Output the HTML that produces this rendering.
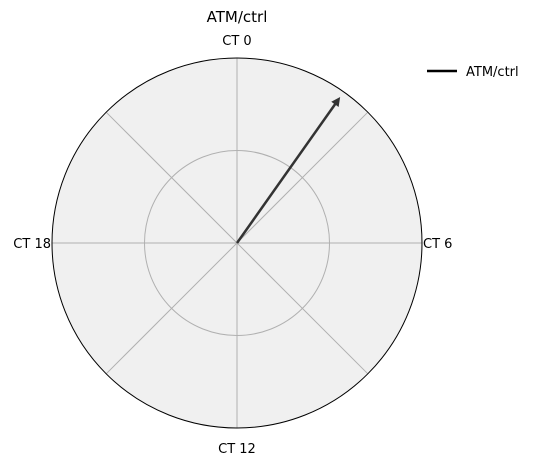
<!DOCTYPE html>
<html><head><meta charset="utf-8"><style>
body{margin:0;background:#fff;}
svg{display:block;font-family:"DejaVu Sans","Liberation Sans",sans-serif;}
</style></head><body>
<svg id="chart" width="537" height="465" viewBox="0 0 537 465">
<text x="237" y="22" font-size="15" text-anchor="middle">ATM/ctrl</text>
<g id="plot"></g>
<g>
<line x1="427" y1="71" x2="457" y2="71" stroke="#000" stroke-width="2.5"/>
<text x="466" y="76" font-size="13">ATM/ctrl</text>
</g>
</svg>
<script>
const ctTicks = [0, 6, 12, 18];
const ctLabels = ["CT 0", "CT 6", "CT 12", "CT 18"];
const phaseCT = [2.35];
const amplitude = [0.966];
const rTicks = [0.5];
const cx = 237, cy = 243, R = 185;
const ns = "http://www.w3.org/2000/svg";
const g = document.getElementById('plot');
function ang(ct){ return ct / 24 * 2 * Math.PI; }
function px(ct, r){ return cx + R * r * Math.sin(ang(ct)); }
function py(ct, r){ return cy - R * r * Math.cos(ang(ct)); }
function mk(tag, attrs){ const e = document.createElementNS(ns, tag); for (const k in attrs) e.setAttribute(k, attrs[k]); g.appendChild(e); return e; }
let bg = mk('circle', {cx, cy, r: R, fill: '#f0f0f0', stroke: 'none'});


for (let i = 0; i < 8; i++) {
  const ct = i * 3;
  const l = mk('line', {x1: cx, y1: cy, x2: px(ct, 1), y2: py(ct, 1), stroke: '#b0b0b0', 'stroke-width': 1});
  
  
}
rTicks.forEach(r => {
  const c = mk('circle', {cx, cy, r: R * r, fill: 'none', stroke: '#b0b0b0', 'stroke-width': 1});
  
  
});
let outer = mk('circle', {cx, cy, r: R, fill: 'none', stroke: '#000', 'stroke-width': 1});


ctTicks.forEach((ct, i) => {
  let anchor = 'middle', xx = px(ct, 1), yy = cy + 5;
  if (ct === 0) yy = cy - R - 13;
  if (ct === 12) yy = cy + R + 25;
  if (ct === 6) { anchor = 'start'; xx = cx + R + 1; }
  if (ct === 18) { anchor = 'end'; xx = cx - R - 1; }
  const t = mk('text', {x: xx, y: yy, 'font-size': 13, 'text-anchor': anchor});
  t.textContent = ctLabels[i];
  
  
});
phaseCT.forEach((ct, i) => {
  const r = amplitude[i];
  const tx = px(ct, r), ty = py(ct, r);
  const a = ang(ct);
  const ux = Math.sin(a), uy = -Math.cos(a);
  const hl = 9, hw = 4.5;
  const bx = tx - ux * hl, by = ty - uy * hl;
  const l = mk('line', {x1: cx, y1: cy, x2: bx + ux*1, y2: by + uy*1, stroke: '#333', 'stroke-width': 2.5});
  
  
  const p = mk('polygon', {points: `${tx},${ty} ${bx - uy*hw},${by + ux*hw} ${bx + uy*hw},${by - ux*hw}`, fill: '#333'});
  
  
});
</script>
</body></html>
